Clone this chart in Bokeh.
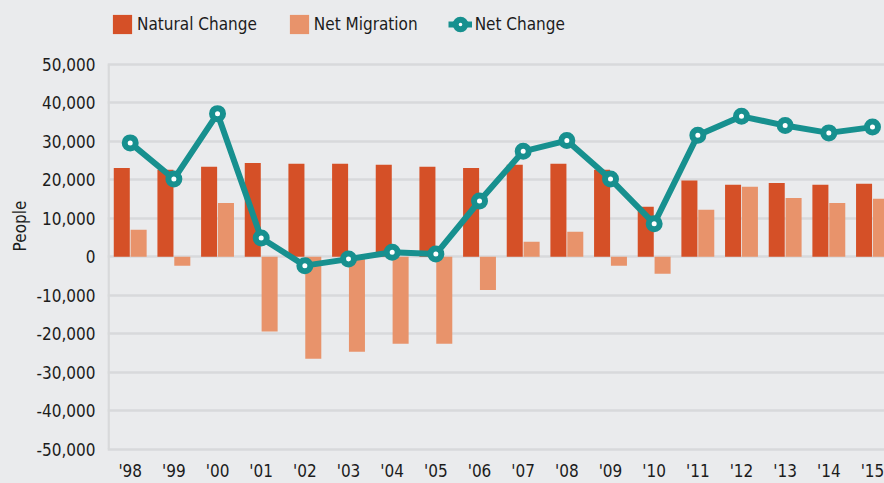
from bokeh.plotting import figure
from bokeh.models import (ColumnDataSource, Range1d, FixedTicker, NumeralTickFormatter,
                          Legend, LegendItem)
from bokeh.transform import dodge
from bokeh.embed import file_html
from bokeh.resources import INLINE

years = ["'98", "'99", "'00", "'01", "'02", "'03", "'04", "'05", "'06",
         "'07", "'08", "'09", "'10", "'11", "'12", "'13", "'14", "'15"]
natural = [23100, 22600, 23400, 24400, 24200, 24200, 23900, 23400, 23100,
           23900, 24200, 22600, 13000, 19800, 18700, 19200, 18700, 19000]
migration = [7000, -2300, 14000, -19400, -26500, -24700, -22600, -22600, -8600,
             3900, 6500, -2300, -4400, 12200, 18200, 15300, 14000, 15100]
net = [29600, 20200, 37200, 4900, -2300, -600, 1200, 700, 14500,
       27400, 30200, 20200, 8600, 31600, 36500, 34100, 32200, 33700]
y_ticks = [-50000, -40000, -30000, -20000, -10000, 0, 10000, 20000, 30000, 40000, 50000]

BG = "#eaebed"
GRID = "#d8d9db"
C_NAT = "#d55027"
C_MIG = "#e8936b"
C_NET = "#17908f"
TXT = "#1c1c1c"
FONT = "DejaVu Sans Condensed"

X_START, X_END = -0.52, 17.275
Y_START, Y_END = -50600, 66600   # upper room holds the legend

idx = list(range(len(years)))
src = ColumnDataSource(dict(x=idx, natural=natural, migration=migration, net=net))

p = figure(width=884, height=483, x_range=Range1d(X_START, X_END),
           y_range=Range1d(Y_START, Y_END), output_backend="svg",
           toolbar_location=None, min_border_left=107, min_border_right=0,
           min_border_top=0, min_border_bottom=31)
p.background_fill_color = BG
p.border_fill_color = BG
p.outline_line_color = None

# vertical axis line (only over the tick span)
p.segment(x0=[X_START + 0.025], y0=[y_ticks[0]], x1=[X_START + 0.025], y1=[y_ticks[-1]],
          line_color=GRID, line_width=2.5)

r_nat = p.vbar(x=dodge('x', -0.193), top='natural', bottom=0, width=0.367,
               source=src, fill_color=C_NAT, line_color=None)
r_mig = p.vbar(x=dodge('x', 0.193), top='migration', bottom=0, width=0.367,
               source=src, fill_color=C_MIG, line_color=None)
r_line = p.line(x='x', y='net', source=src, line_color=C_NET, line_width=6)
r_pts = p.scatter(x='x', y='net', source=src, size=11, fill_color="white",
                  line_color=C_NET, line_width=6)

# axes
p.xaxis.ticker = FixedTicker(ticks=idx)
p.xaxis.major_label_overrides = {i: y for i, y in enumerate(years)}
p.xaxis.axis_line_color = None
p.xaxis.major_tick_line_color = None
p.xaxis.minor_tick_line_color = None
p.xaxis.major_tick_out = 0
p.xaxis.major_tick_in = 0
p.xaxis.major_label_standoff = 9
p.xaxis.major_label_text_font = FONT
p.xaxis.major_label_text_font_size = "17px"
p.xaxis.major_label_text_color = TXT

p.yaxis.ticker = FixedTicker(ticks=y_ticks)
p.yaxis.formatter = NumeralTickFormatter(format="0,0")
p.yaxis.axis_line_color = None
p.yaxis.major_tick_line_color = None
p.yaxis.minor_tick_line_color = None
p.yaxis.major_tick_out = 0
p.yaxis.major_tick_in = 0
p.yaxis.major_label_standoff = 12
p.yaxis.major_label_text_font = FONT
p.yaxis.major_label_text_font_size = "17px"
p.yaxis.major_label_text_color = TXT
p.yaxis.axis_label = "People"
p.yaxis.axis_label_text_font = FONT
p.yaxis.axis_label_text_font_size = "17px"
p.yaxis.axis_label_text_font_style = "normal"
p.yaxis.axis_label_text_color = TXT
p.yaxis.axis_label_standoff = 3

p.xgrid.grid_line_color = None
p.ygrid.ticker = FixedTicker(ticks=y_ticks)
p.ygrid.grid_line_color = GRID
p.ygrid.grid_line_width = 2.5

legend = Legend(items=[LegendItem(label="Natural Change", renderers=[r_nat]),
                       LegendItem(label="Net Migration", renderers=[r_mig]),
                       LegendItem(label="Net Change", renderers=[r_line, r_pts])],
                orientation="horizontal", location=(3, 415), padding=0, margin=0,
                spacing=30, glyph_width=24, glyph_height=24, label_standoff=3,
                label_text_font=FONT, label_text_font_size="17px",
                label_text_color=TXT, background_fill_alpha=0, border_line_alpha=0)
p.add_layout(legend, "center")

html = file_html(p, INLINE)
html = html.replace("<head>", "<head><style>html,body{background:#eaebed;}</style>", 1)
open("out.html", "w").write(html)
